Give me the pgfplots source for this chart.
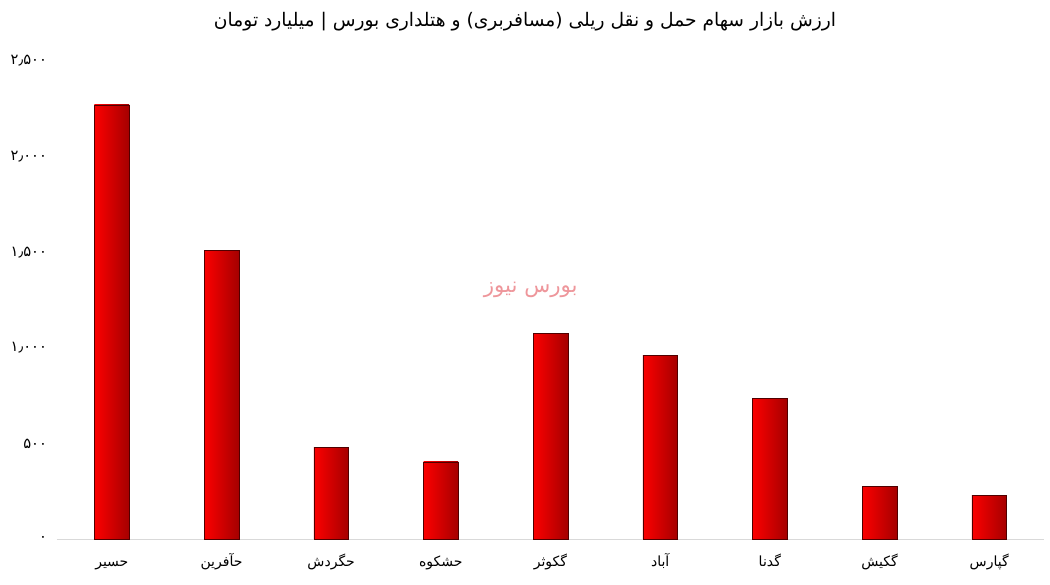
\documentclass[border=0pt]{standalone}
\usepackage{pgfplots}
\pgfplotsset{compat=1.18}
\usepackage{fontspec}
\TeXXeTstate=1
\newfontfamily\arabicfont[Script=Arabic]{DejaVu Sans}
\newfontfamily\digitfont{DejaVu Sans}
\definecolor{barlight}{RGB}{252,0,0}
\definecolor{bardark}{RGB}{165,0,0}
\definecolor{barline}{RGB}{80,0,0}
\definecolor{wmark}{RGB}{238,150,155}
\newcommand{\fa}[1]{{\arabicfont\beginR #1\endR}}

\begin{document}
\begin{tikzpicture}
\path[use as bounding box] (-42.75pt,-34.5pt) rectangle (744.75pt,404.25pt);
\begin{axis}[
    scale only axis,
    width=740.25pt, height=358.5pt,
    ymin=0, ymax=2500,
    xmin=-0.5, xmax=8.5,
    axis x line*=bottom,
    axis y line*=left,
    y axis line style={draw=none},
    x axis line style={draw=black!15, -},
    major tick length=0pt,
    xtick={0,...,8},
    xticklabels={\fa{حسیر},\fa{حآفرین},\fa{حگردش},\fa{حشکوه},\fa{گکوثر},\fa{آباد},\fa{گدنا},\fa{گکیش},\fa{گپارس}},
    ytick={0,500,1000,1500,2000,2500},
    yticklabels={۰,۵۰۰,۱٫۰۰۰,۱٫۵۰۰,۲٫۰۰۰,۲٫۵۰۰},
    yticklabel style={font=\digitfont\fontsize{11}{12}\selectfont, xshift=-4pt},
    xticklabel style={font=\fontsize{10.5}{12}\selectfont, text height=9pt, text depth=3pt, yshift=-8pt},
    clip=false,
    mybar/.style={ybar, bar width=26pt, bar shift=0pt, left color=barlight, right color=bardark, draw=barline, line width=0.5pt},
]
\addplot[mybar] coordinates {(0,2270)};
\addplot[mybar] coordinates {(1,1511)};
\addplot[mybar] coordinates {(2,481)};
\addplot[mybar] coordinates {(3,403)};
\addplot[mybar] coordinates {(4,1077)};
\addplot[mybar] coordinates {(5,962)};
\addplot[mybar] coordinates {(6,737)};
\addplot[mybar] coordinates {(7,277)};
\addplot[mybar] coordinates {(8,230)};
\node[text=wmark, font=\arabicfont\fontsize{16}{18}\selectfont] at (axis cs:3.82,1302) {\beginR بورس نیوز\endR};
\end{axis}
\node[font=\arabicfont\fontsize{14}{16}\selectfont] at (351pt,387.75pt) {\beginR ارزش بازار سهام حمل و نقل ریلی (مسافربری) و هتلداری بورس | میلیارد تومان\endR};
\end{tikzpicture}
\end{document}
